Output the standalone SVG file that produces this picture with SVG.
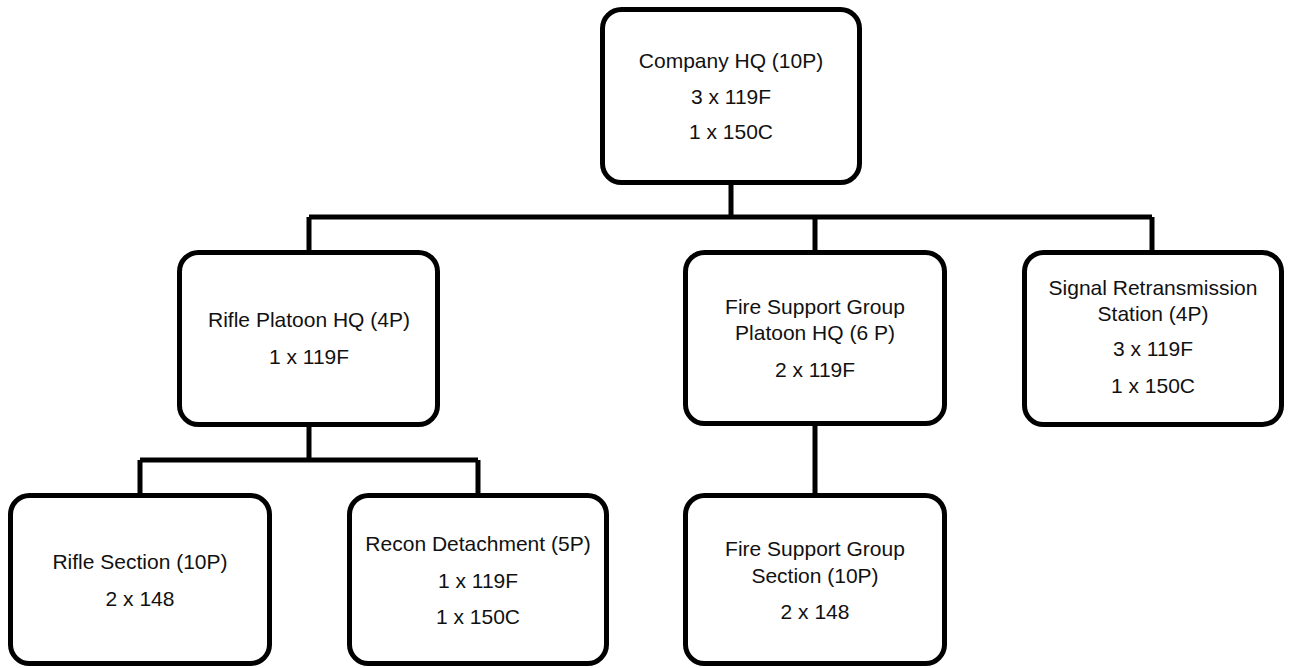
<svg xmlns="http://www.w3.org/2000/svg" width="1290" height="668" viewBox="0 0 1290 668">
<style>
.box{fill:#fff;stroke:#000;stroke-width:5}
.t{font-family:"Liberation Sans",Arial,sans-serif;font-size:21px;fill:#111;text-anchor:middle}
.c{fill:none;stroke:#000;stroke-width:5}
</style>
<rect width="1290" height="668" fill="#fff"/>
<g id="connectors">
<path class="c" d="M731 185V217M309 217H1152M309 217V250M815 217V250M1152 217V250"/>
<path class="c" d="M309 427V460M140 460H478M140 460V493M478 460V493"/>
<path class="c" d="M815 425V493"/>
</g>
<g id="company-hq">
<rect class="box" x="602.5" y="9.5" width="257" height="173" rx="19"/>
<text class="t" x="731" y="68">Company HQ (10P)</text>
<text class="t" x="731" y="104">3 x 119F</text>
<text class="t" x="731" y="139">1 x 150C</text>
</g>
<g id="rifle-platoon-hq">
<rect class="box" x="179.5" y="252.5" width="258" height="172" rx="19"/>
<text class="t" x="309" y="327">Rifle Platoon HQ (4P)</text>
<text class="t" x="309" y="364">1 x 119F</text>
</g>
<g id="fsg-platoon-hq">
<rect class="box" x="685.5" y="252.5" width="259" height="171" rx="19"/>
<text class="t" x="815" y="314">Fire Support Group</text>
<text class="t" x="815" y="340">Platoon HQ (6 P)</text>
<text class="t" x="815" y="377">2 x 119F</text>
</g>
<g id="signal-station">
<rect class="box" x="1024.5" y="252.5" width="257" height="172" rx="19"/>
<text class="t" x="1153" y="295">Signal Retransmission</text>
<text class="t" x="1153" y="321">Station (4P)</text>
<text class="t" x="1153" y="356">3 x 119F</text>
<text class="t" x="1153" y="393">1 x 150C</text>
</g>
<g id="rifle-section">
<rect class="box" x="10.5" y="495.5" width="259" height="168" rx="19"/>
<text class="t" x="140" y="569">Rifle Section (10P)</text>
<text class="t" x="140" y="606">2 x 148</text>
</g>
<g id="recon-detachment">
<rect class="box" x="349.5" y="495.5" width="257" height="168" rx="19"/>
<text class="t" x="478" y="551">Recon Detachment (5P)</text>
<text class="t" x="478" y="588">1 x 119F</text>
<text class="t" x="478" y="624">1 x 150C</text>
</g>
<g id="fsg-section">
<rect class="box" x="685.5" y="495.5" width="259" height="168" rx="19"/>
<text class="t" x="815" y="556">Fire Support Group</text>
<text class="t" x="815" y="583">Section (10P)</text>
<text class="t" x="815" y="619">2 x 148</text>
</g>
</svg>
